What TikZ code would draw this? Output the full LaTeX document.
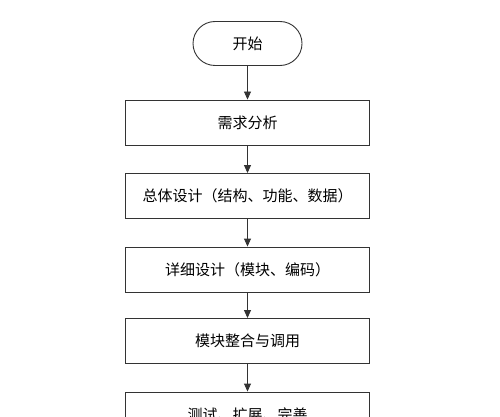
\documentclass[tikz,border=0pt]{standalone}
\usepackage{fontspec}
\newfontfamily\cjk{Noto Sans CJK SC}
\usetikzlibrary{arrows.meta,shapes.misc}
\begin{document}
\begin{tikzpicture}[x=1pt,y=-1pt,
  every node/.style={font=\cjk\fontsize{15}{18}\selectfont},
  procbox/.style={draw=black!80,line width=0.9pt,minimum width=244pt,minimum height=45pt,inner sep=0pt},
  termbox/.style={draw=black!80,line width=0.9pt,rounded rectangle,minimum width=109pt,minimum height=44pt,inner sep=0pt},
  flow/.style={draw=black!80,line width=0.9pt,-{Triangle[length=8pt,width=7pt]}}]
\useasboundingbox (0,0) rectangle (500,417);
\clip (0,0) rectangle (500,417);
\node[termbox] (start) at (247.5,43.5) {开始};
\node[procbox] (a) at (247.5,122.5) {需求分析};
\node[procbox] (b) at (247.5,196) {总体设计（结构、功能、数据）};
\node[procbox] (c) at (247.5,269.5) {详细设计（模块、编码）};
\node[procbox] (d) at (247.5,341) {模块整合与调用};
\node[procbox] (e) at (247.5,414.5) {测试、扩展、完善};
\draw[flow] (start) -- (a);
\draw[flow] (a) -- (b);
\draw[flow] (b) -- (c);
\draw[flow] (c) -- (d);
\draw[flow] (d) -- (e);
\end{tikzpicture}
\end{document}
